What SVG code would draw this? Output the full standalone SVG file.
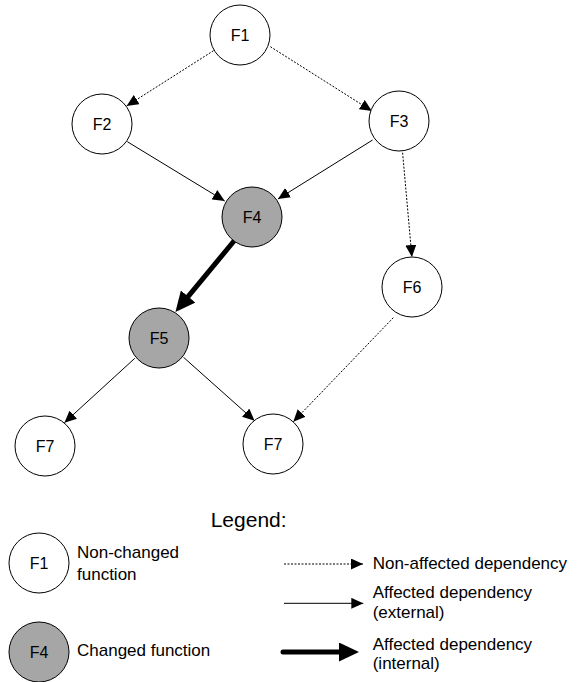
<svg xmlns="http://www.w3.org/2000/svg" width="584" height="682" viewBox="0 0 584 682">
<defs>
<style>
.n{fill:#fff;stroke:#000;stroke-width:1}
.c{fill:#a6a6a6;stroke:#000;stroke-width:1}
.t{font-family:"Liberation Sans",Arial,sans-serif;font-size:16px;fill:#000;text-anchor:middle}
.l{font-family:"Liberation Sans",Arial,sans-serif;font-size:17px;fill:#000}
.dot{stroke:#000;stroke-width:1;stroke-dasharray:2,1.5;fill:none;marker-end:url(#ah)}
.sol{stroke:#000;stroke-width:1;fill:none;marker-end:url(#ah)}
.thk{stroke:#000;stroke-width:5;fill:none;stroke-linecap:round;marker-end:url(#ahb)}
</style>
<marker id="ah" markerUnits="userSpaceOnUse" markerWidth="12" markerHeight="11" refX="12" refY="5.5" orient="auto">
<path d="M0,0 L12,5.5 L0,11 z" fill="#000"/>
</marker>
<marker id="ahb" markerUnits="userSpaceOnUse" markerWidth="20" markerHeight="19" refX="8" refY="9.5" orient="auto">
<path d="M0,0 L20,9.5 L0,19 z" fill="#000"/>
</marker>
</defs>
<rect width="584" height="682" fill="#fff"/>
<g id="connectors">
<line class="dot" x1="213.5" y1="50.7" x2="126.6" y2="106"/>
<line class="dot" x1="270.4" y1="46.7" x2="371.9" y2="111"/>
<line class="sol" x1="127.3" y1="141.7" x2="224.7" y2="201"/>
<line class="sol" x1="372.6" y1="140" x2="277.9" y2="199"/>
<line class="dot" x1="402.6" y1="152.7" x2="411.9" y2="257"/>
<line class="thk" x1="234" y1="241" x2="183.1" y2="302.7"/>
<line class="sol" x1="134.8" y1="358.3" x2="64.4" y2="422.7"/>
<line class="sol" x1="183.5" y1="357.3" x2="254.6" y2="420.7"/>
<line class="dot" x1="393.3" y1="317.7" x2="293.3" y2="421.7"/>
</g>
<g id="F1"><circle class="n" cx="240" cy="35" r="30"/><text class="t" x="240" y="41">F1</text></g>
<g id="F2"><circle class="n" cx="102" cy="124" r="30"/><text class="t" x="102" y="130">F2</text></g>
<g id="F3"><circle class="n" cx="399" cy="121" r="30"/><text class="t" x="399" y="127">F3</text></g>
<g id="F4"><circle class="c" cx="252" cy="217" r="30"/><text class="t" x="252" y="223">F4</text></g>
<g id="F5"><circle class="c" cx="159" cy="338" r="30"/><text class="t" x="159" y="344">F5</text></g>
<g id="F6"><circle class="n" cx="412" cy="287" r="30"/><text class="t" x="412" y="293">F6</text></g>
<g id="F7a"><circle class="n" cx="45" cy="446" r="30"/><text class="t" x="45" y="452">F7</text></g>
<g id="F7b"><circle class="n" cx="273" cy="444" r="30"/><text class="t" x="273" y="450">F7</text></g>
<g id="legend">
<text class="l" x="210.7" y="526.7" style="font-size:21px">Legend:</text>
<g id="legend-unchanged"><circle class="n" cx="39" cy="563" r="30"/><text class="t" x="39" y="569">F1</text>
<text class="l" x="77" y="558">Non-changed</text><text class="l" x="77" y="580">function</text></g>
<g id="legend-changed"><circle class="c" cx="39" cy="652" r="30"/><text class="t" x="39" y="658">F4</text>
<text class="l" x="77" y="656">Changed function</text></g>
<line class="dot" x1="284" y1="564" x2="363" y2="564"/>
<text class="l" x="372.7" y="569">Non-affected dependency</text>
<line class="sol" x1="284" y1="603.3" x2="363.3" y2="603.3"/>
<text class="l" x="372.7" y="598">Affected dependency</text>
<text class="l" x="372.7" y="618">(external)</text>
<line class="thk" x1="283" y1="652" x2="347" y2="652"/>
<text class="l" x="372.7" y="650">Affected dependency</text>
<text class="l" x="372.7" y="669">(internal)</text>
</g>
</svg>
